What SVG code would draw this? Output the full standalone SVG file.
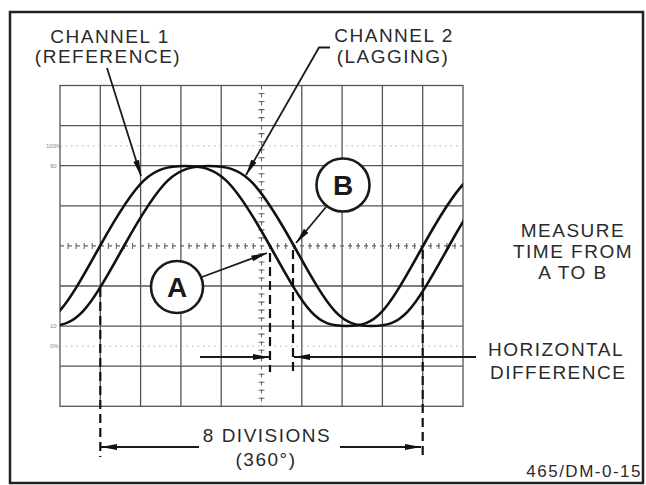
<svg xmlns="http://www.w3.org/2000/svg" width="646" height="485" viewBox="0 0 646 485">
<style>
.t{font-family:"Liberation Sans",Arial,sans-serif;font-size:19px;fill:#2a2a2a;letter-spacing:1.5px}
.g{stroke:#555;stroke-width:1.3;fill:none}
.c{stroke:#666;stroke-width:1.1;fill:none}
.tr{stroke:#111;stroke-width:2.6;fill:none}
.ln{stroke:#1a1a1a;stroke-width:1.8;fill:none}
.ds{stroke:#111;stroke-width:2.2;stroke-dasharray:9 5;fill:none}
.circ{stroke:#1a1a1a;stroke-width:2.6;fill:#fff}
.big{font-family:"Liberation Sans",Arial,sans-serif;font-size:28px;font-weight:bold;fill:#1a1a1a}
.sm{font-family:"Liberation Sans",Arial,sans-serif;font-size:6px;fill:#888}
</style>
<defs>
<marker id="ah" viewBox="0 0 16 8" refX="16" refY="4" markerWidth="16" markerHeight="8" markerUnits="userSpaceOnUse" orient="auto">
<path d="M0,1 L16,4 L0,7 Z" fill="#111"/>
</marker>
<clipPath id="gclip"><rect x="60" y="85.5" width="403" height="320.8"/></clipPath>
</defs>
<rect x="0" y="0" width="646" height="485" fill="#fff"/>
<rect x="10" y="12" width="633" height="471" fill="none" stroke="#222" stroke-width="2.5"/>

<g id="graticule">
<rect class="g" x="60" y="85.5" width="403" height="320.8"/>
<path class="g" d="M100.3,85.5V406.3M140.6,85.5V406.3M180.9,85.5V406.3M221.2,85.5V406.3M301.8,85.5V406.3M342.1,85.5V406.3M382.4,85.5V406.3M422.7,85.5V406.3"/>
<path class="g" d="M60,125.6H463M60,165.7H463M60,205.8H463M60,286H463M60,326.1H463M60,366.2H463"/>
<path class="c" stroke-dasharray="4 4" d="M60,245.9H463M261.5,85.5V406.3"/>
<path class="c" d="M68.1,242.9v6M76.1,242.9v6M84.2,242.9v6M92.2,242.9v6M108.4,242.9v6M116.4,242.9v6M124.5,242.9v6M132.5,242.9v6M148.7,242.9v6M156.7,242.9v6M164.8,242.9v6M172.8,242.9v6M189,242.9v6M197,242.9v6M205.1,242.9v6M213.1,242.9v6M229.3,242.9v6M237.3,242.9v6M245.4,242.9v6M253.4,242.9v6M269.6,242.9v6M277.6,242.9v6M285.7,242.9v6M293.7,242.9v6M309.9,242.9v6M317.9,242.9v6M326,242.9v6M334,242.9v6M350.2,242.9v6M358.2,242.9v6M366.3,242.9v6M374.3,242.9v6M390.5,242.9v6M398.5,242.9v6M406.6,242.9v6M414.6,242.9v6M430.8,242.9v6M438.8,242.9v6M446.9,242.9v6M454.9,242.9v6"/>
<path class="c" d="M258.5,93.5h6M258.5,101.5h6M258.5,109.6h6M258.5,117.6h6M258.5,133.6h6M258.5,141.7h6M258.5,149.7h6M258.5,157.7h6M258.5,173.7h6M258.5,181.8h6M258.5,189.8h6M258.5,197.8h6M258.5,213.8h6M258.5,221.9h6M258.5,229.9h6M258.5,237.9h6M258.5,253.9h6M258.5,262h6M258.5,270h6M258.5,278h6M258.5,294h6M258.5,302.1h6M258.5,310.1h6M258.5,318.1h6M258.5,334.1h6M258.5,342.2h6M258.5,350.2h6M258.5,358.2h6M258.5,374.2h6M258.5,382.3h6M258.5,390.3h6M258.5,398.3h6"/>
<path stroke="#aaa" stroke-width="1" stroke-dasharray="1.5 4" fill="none" d="M60,145.8H463M60,346.1H463"/>
<text class="sm" x="46" y="148">100%</text>
<text class="sm" x="50" y="168">90</text>
<text class="sm" x="50" y="328">10</text>
<text class="sm" x="50" y="348">0%</text>
</g>

<g id="traces" clip-path="url(#gclip)">
<path id="ch1" class="tr" d="M-53,246 C-15,314.4 -7.1,326 23.5,326 C54.1,326 62,314.4 100,246 C138,177.6 151,166 185,166 C219,166 232,177.6 270,246 C308,314.4 315.9,326 346.5,326 C377.1,326 385,314.4 423,246 C461,177.6 474,166 508,166"/>
<path id="ch2" class="tr" d="M-31,246 C7,314.4 15.5,326 46.5,326 C77.5,326 86,314.4 124,246 C162,177.6 175,166 209,166 C243,166 256,177.6 294,246 C332,314.4 340.5,326 371.5,326 C402.5,326 411,314.4 449,246 C487,177.6 500,166 534,166"/>
</g>

<g id="connectors">
<path class="ln" marker-end="url(#ah)" d="M107,68 L141,176"/>
<path class="ln" marker-end="url(#ah)" d="M330,47.5 L319,47.5 L246,175"/>
<path class="ln" marker-end="url(#ah)" d="M202,277 L267,253"/>
<path class="ln" marker-end="url(#ah)" d="M326,207 L296,243"/>
<path class="ds" d="M100.3,288V457M422.7,250V457M270,253V372M293,250V372"/>
<path class="ln" marker-end="url(#ah)" d="M200,357H269"/>
<path class="ln" marker-end="url(#ah)" d="M476,357H294"/>
<path class="ln" marker-end="url(#ah)" d="M199,447H101"/>
<path class="ln" marker-end="url(#ah)" d="M340,447H421"/>
</g>

<g id="label-ch1">
<text class="t" x="110" y="43" text-anchor="middle">CHANNEL 1</text>
<text class="t" x="108" y="63" text-anchor="middle">(REFERENCE)</text>
</g>
<g id="label-ch2">
<text class="t" x="394" y="42" text-anchor="middle">CHANNEL 2</text>
<text class="t" x="393" y="63" text-anchor="middle">(LAGGING)</text>
</g>
<g id="node-A">
<circle class="circ" cx="177" cy="287" r="26"/>
<text class="big" x="177" y="297" text-anchor="middle">A</text>
</g>
<g id="node-B">
<circle class="circ" cx="343" cy="185" r="26.5"/>
<text class="big" x="343" y="195" text-anchor="middle">B</text>
</g>
<g id="label-measure">
<text class="t" x="573" y="237" text-anchor="middle">MEASURE</text>
<text class="t" x="573" y="258" text-anchor="middle">TIME FROM</text>
<text class="t" x="573" y="279" text-anchor="middle">A TO B</text>
</g>
<g id="label-hdiff">
<text class="t" x="488" y="356">HORIZONTAL</text>
<text class="t" x="490" y="379">DIFFERENCE</text>
</g>
<g id="label-div">
<text class="t" x="267" y="442" text-anchor="middle">8 DIVISIONS</text>
<text class="t" x="266" y="466" text-anchor="middle">(360°)</text>
</g>
<text class="t" x="642" y="477" text-anchor="end" style="font-size:17px">465/DM-0-15</text>
</svg>
